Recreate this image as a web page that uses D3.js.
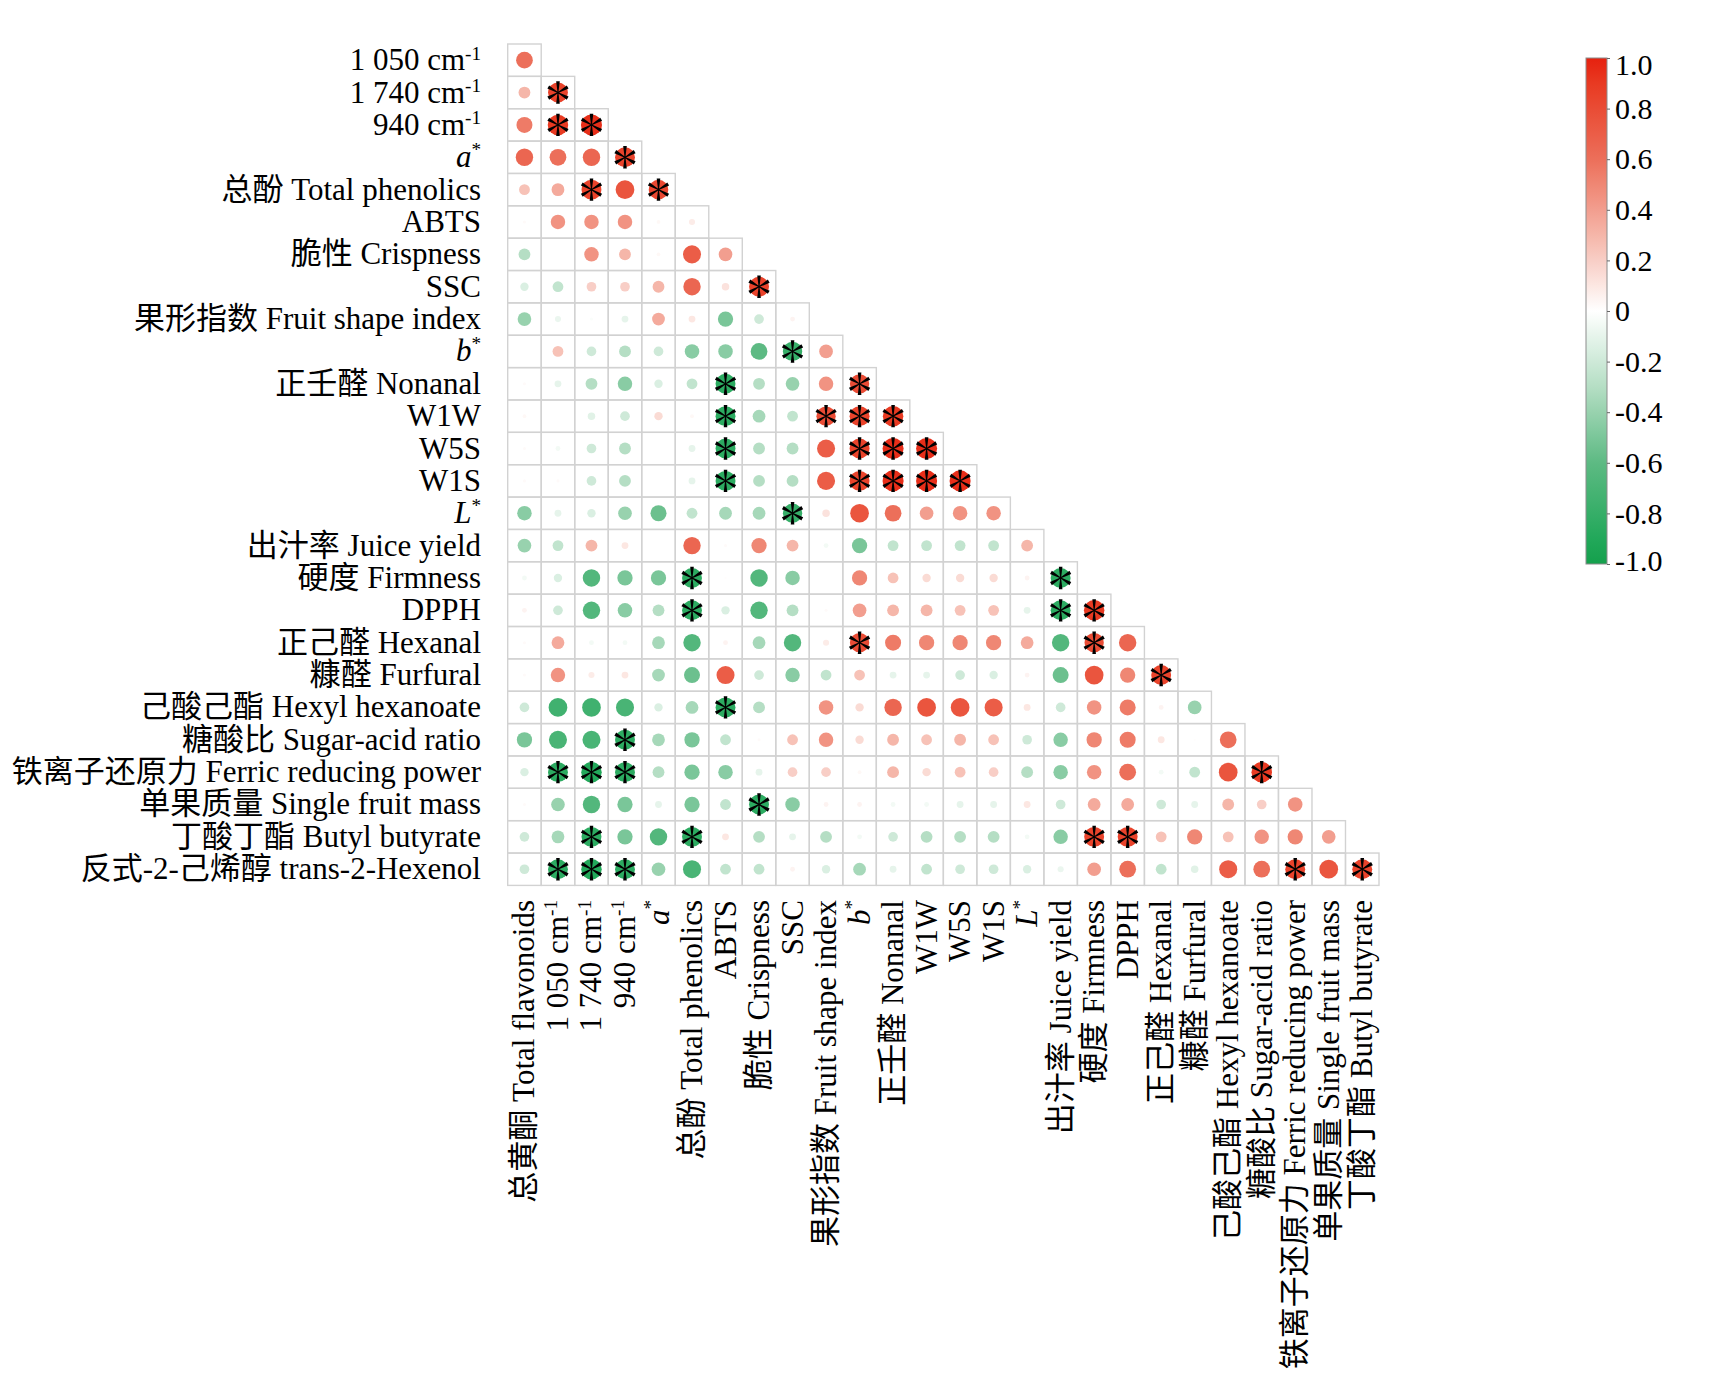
<!DOCTYPE html>
<html>
<head>
<meta charset="utf-8">
<script src="https://cdn.jsdelivr.net/npm/d3@7"></script>
<style>
  body { margin: 0; background: #fff; }
  svg text { font-family: "Liberation Serif", "Times New Roman", "Noto Sans CJK SC", serif; fill: #000; }
</style>
</head>
<body>
<script>
(function(){

    //variable names (chinese part, english part)
    var cnNames = ["总黄酮", "", "", "", "", "总酚", "", "脆性", "", "果形指数", "", "正壬醛", "", "", "", "", "出汁率", "硬度", "", "正己醛", "糠醛", "己酸己酯", "糖酸比", "铁离子还原力", "单果质量", "丁酸丁酯", "反式-2-己烯醇"];
    var enNames = ["Total flavonoids", "1 050 cm-1", "1 740 cm-1", "940 cm-1", "a*", "Total phenolics", "ABTS", "Crispness", "SSC", "Fruit shape index", "b*", "Nonanal", "W1W", "W5S", "W1S", "L*", "Juice yield", "Firmness", "DPPH", "Hexanal", "Furfural", "Hexyl hexanoate", "Sugar-acid ratio", "Ferric reducing power", "Single fruit mass", "Butyl butyrate", "trans-2-Hexenol"];

    //lower triangle of the correlation matrix, row i holds columns 0..i-1
    var corrRows = [
        [],
        [0.6],
        [0.3, 0.85],
        [0.55, 0.9, 0.95],
        [0.65, 0.6, 0.65, 0.85],
        [0.25, 0.35, 0.85, 0.75, 0.82],
        [0.02, 0.45, 0.45, 0.45, 0.03, 0.08],
        [-0.3, 0, 0.45, 0.3, 0.03, 0.7, 0.4],
        [-0.15, -0.25, 0.2, 0.2, 0.3, 0.65, 0.12, 0.85],
        [-0.4, -0.08, -0.02, -0.1, 0.35, 0.1, -0.5, -0.2, 0.05],
        [0, 0.25, -0.2, -0.3, -0.2, -0.45, -0.45, -0.6, -0.8, 0.4],
        [0.02, -0.1, -0.3, -0.45, -0.15, -0.25, -0.85, -0.3, -0.4, 0.45, 0.8],
        [0.03, 0, -0.12, -0.2, 0.15, 0.03, -0.85, -0.35, -0.25, 0.8, 0.85, 0.9],
        [0.02, -0.05, -0.2, -0.3, 0, -0.1, -0.85, -0.3, -0.3, 0.7, 0.85, 0.95, 0.95],
        [0.02, 0.02, -0.2, -0.3, 0, -0.1, -0.85, -0.3, -0.3, 0.7, 0.85, 0.95, 0.95, 0.95],
        [-0.45, -0.1, -0.15, -0.4, -0.55, -0.25, -0.35, -0.35, -0.8, 0.12, 0.75, 0.6, 0.4, 0.45, 0.45],
        [-0.4, -0.25, 0.3, 0.1, 0, 0.65, 0.02, 0.5, 0.3, -0.05, -0.5, -0.25, -0.25, -0.25, -0.25, 0.3],
        [-0.05, -0.15, -0.65, -0.5, -0.5, -0.85, 0.01, -0.65, -0.45, 0, 0.5, 0.25, 0.15, 0.15, 0.15, 0.05, -0.85],
        [0.05, -0.2, -0.65, -0.45, -0.3, -0.85, -0.15, -0.65, -0.3, 0.02, 0.4, 0.3, 0.3, 0.25, 0.25, -0.1, -0.85, 0.9],
        [0.02, 0.35, -0.05, -0.05, -0.35, -0.65, 0.05, -0.35, -0.65, 0.08, 0.8, 0.55, 0.5, 0.5, 0.5, 0.35, -0.65, 0.8, 0.65],
        [0.02, 0.45, 0.08, 0.1, -0.35, -0.55, 0.7, -0.2, -0.45, -0.25, 0.25, -0.1, -0.1, -0.2, -0.15, 0.05, -0.55, 0.75, 0.5, 0.85],
        [-0.2, -0.75, -0.75, -0.7, -0.15, -0.35, -0.85, -0.3, 0, 0.45, 0.15, 0.65, 0.75, 0.75, 0.7, 0.1, -0.2, 0.45, 0.55, 0.05, -0.4],
        [-0.5, -0.7, -0.7, -0.85, -0.35, -0.5, -0.25, 0.02, 0.25, 0.45, 0.15, 0.3, 0.25, 0.3, 0.25, -0.2, -0.45, 0.5, 0.55, 0.1, 0.01, 0.6],
        [-0.15, -0.85, -0.9, -0.85, -0.3, -0.5, -0.45, -0.1, 0.2, 0.2, 0.03, 0.3, 0.15, 0.25, 0.2, -0.3, -0.45, 0.45, 0.6, -0.05, -0.25, 0.75, 0.9],
        [0.02, -0.4, -0.65, -0.5, -0.1, -0.5, -0.25, -0.85, -0.45, 0.05, 0.05, -0.05, -0.05, -0.1, -0.1, 0.1, -0.2, 0.35, 0.35, -0.2, -0.1, 0.3, 0.2, 0.45],
        [-0.2, -0.35, -0.85, -0.5, -0.65, -0.85, 0.1, -0.3, -0.1, -0.3, -0.05, -0.2, -0.3, -0.3, -0.3, -0.05, -0.45, 0.85, 0.85, 0.25, 0.5, 0.25, 0.45, 0.5, 0.4],
        [-0.2, -0.85, -0.9, -0.85, -0.4, -0.7, -0.25, -0.25, 0.05, -0.15, -0.35, -0.1, -0.25, -0.2, -0.2, -0.15, -0.08, 0.4, 0.6, -0.25, -0.12, 0.7, 0.6, 0.85, 0.75, 0.85]
    ];

    //columns marked significant (*) in each row
    var sigCols = [
        [], [], [1], [1, 2], [3], [2, 4], [], [], [7], [], [8], [6, 10], [6, 9, 10, 11],
        [6, 10, 11, 12], [6, 10, 11, 12, 13], [8], [], [5, 16], [5, 16, 17], [10, 17], [19],
        [6], [3], [1, 2, 3, 22], [7], [2, 5, 17, 18], [1, 2, 3, 23, 25]
    ];

    //colour bar ticks
    var barTicks = [1, 0.8, 0.6, 0.4, 0.2, 0, -0.2, -0.4, -0.6, -0.8, -1];
    var barTickLabels = ["1.0", "0.8", "0.6", "0.4", "0.2", "0", "-0.2", "-0.4", "-0.6", "-0.8", "-1.0"];

    var width = 1724, height = 1384;
    var fontFam = '"Liberation Serif", "Times New Roman", "Noto Sans CJK SC", serif';

    var svg = d3.select("body")
        .append("svg")
        .attr("width", width)
        .attr("height", height);

    var n = enNames.length;
    var colIdx = d3.range(0, n - 1),
        rowIdx = d3.range(1, n);

    var x = d3.scaleBand().domain(colIdx).range([507.7, 1379]);
    var y = d3.scaleBand().domain(rowIdx).range([44, 885.4]);

    //green - white - red ramp (stronger tint in the middle like corrplot)
    var color = d3.scaleLinear()
        .domain([-1, -0.9, -0.6, -0.3, 0, 0.3, 0.6, 0.9, 1])
        .range(["#14a04c", "#22a85a", "#5dba83", "#b5dec4", "#ffffff", "#f5b6a9", "#ec6f5a", "#e83a22", "#e6210f"]);
    var radius = d3.scaleSqrt().domain([0, 1]).range([0, 10.8]);

    //flatten the triangle into cells
    var cells = [];
    rowIdx.forEach(function(r){
        corrRows[r].forEach(function(v, c){
            cells.push({row: r, col: c, value: v, sig: sigCols[r].indexOf(c) >= 0});
        });
    });

    //cell frames
    svg.append("g").selectAll("rect")
        .data(cells)
        .enter()
        .append("rect")
        .attr("x", function(d){ return x(d.col); })
        .attr("y", function(d){ return y(d.row); })
        .attr("width", x.bandwidth())
        .attr("height", y.bandwidth())
        .attr("fill", "none")
        .attr("stroke", "#d2d2d2")
        .attr("stroke-width", 1.4);

    //circles
    svg.append("g").selectAll("circle")
        .data(cells)
        .enter()
        .append("circle")
        .attr("cx", function(d){ return x(d.col) + x.bandwidth() / 2; })
        .attr("cy", function(d){ return y(d.row) + y.bandwidth() / 2; })
        .attr("r", function(d){ return radius(Math.abs(d.value)); })
        .attr("fill", function(d){ return color(d.value); });

    //asterisks: six tapered spokes
    function spokePath(len){
        var p = "";
        for (var k = 0; k < 6; k++){
            var a = (k * 60 - 90) * Math.PI / 180,
                ca = Math.cos(a), sa = Math.sin(a),
                nx = -sa, ny = ca;
            var w0 = 0.45, w1 = 1.8;
            var pts = [
                [nx * w0, ny * w0],
                [ca * len + nx * w1, sa * len + ny * w1],
                [ca * len - nx * w1, sa * len - ny * w1],
                [-nx * w0, -ny * w0]
            ];
            p += "M" + pts.map(function(q){ return q[0].toFixed(2) + "," + q[1].toFixed(2); }).join("L") + "Z";
        }
        return p;
    }
    svg.append("g").selectAll("path")
        .data(cells.filter(function(d){ return d.sig; }))
        .enter()
        .append("path")
        .attr("transform", function(d){
            return "translate(" + (x(d.col) + x.bandwidth() / 2) + "," + (y(d.row) + y.bandwidth() / 2) + ")";
        })
        .attr("d", spokePath(11.2))
        .attr("fill", "#000");

    //label writer: chinese + english, superscripts and italics
    function writeLabel(sel, i){
        var cn = cnNames[i], en = enNames[i];
        if (cn) sel.append("tspan").text(cn + " ");
        var m;
        if ((m = en.match(/^(.*cm)(-1)$/))){
            sel.append("tspan").text(m[1]);
            sel.append("tspan").attr("font-size", "62%").attr("dy", "-0.55em").text(m[2]);
        } else if ((m = en.match(/^([abL])\*$/))){
            sel.append("tspan").attr("font-style", "italic").text(m[1]);
            sel.append("tspan").attr("font-size", "62%").attr("dy", "-0.6em").text("*");
        } else {
            sel.append("tspan").text(en);
        }
    }

    //row labels
    rowIdx.forEach(function(r){
        var t = svg.append("text")
            .attr("x", 481)
            .attr("y", y(r) + y.bandwidth() / 2 + 10)
            .attr("text-anchor", "end")
            .attr("font-size", 31);
        writeLabel(t, r);
    });

    //column labels
    colIdx.forEach(function(c){
        var t = svg.append("text")
            .attr("transform", "translate(" + (x(c) + x.bandwidth() / 2 + 10) + ",900) rotate(-90)")
            .attr("text-anchor", "end")
            .attr("font-size", 31);
        writeLabel(t, c);
    });

    //colour bar
    var barX = 1586, barW = 21;
    var barScale = d3.scaleLinear().domain([-1, 1]).range([564, 58]);
    var grad = svg.append("defs").append("linearGradient")
        .attr("id", "barGrad")
        .attr("x1", 0).attr("y1", 1).attr("x2", 0).attr("y2", 0);
    d3.range(-1, 1.001, 0.05).forEach(function(v){
        grad.append("stop")
            .attr("offset", ((v + 1) / 2 * 100).toFixed(1) + "%")
            .attr("stop-color", color(v));
    });
    svg.append("rect")
        .attr("x", barX)
        .attr("y", barScale(1))
        .attr("width", barW)
        .attr("height", barScale(-1) - barScale(1))
        .attr("fill", "url(#barGrad)")
        .attr("stroke", "#8c8c8c")
        .attr("stroke-width", 1);

    var barAxis = d3.axisRight(barScale)
        .tickValues(barTicks)
        .tickSize(3)
        .tickPadding(5)
        .tickFormat(function(d, i){ return barTickLabels[i]; });
    var ax = svg.append("g")
        .attr("transform", "translate(" + (barX + barW) + ",0)")
        .call(barAxis);
    ax.select(".domain").remove();
    ax.selectAll(".tick line").attr("stroke", "#666");
    ax.selectAll(".tick text")
        .attr("font-family", fontFam)
        .attr("font-size", 30)
        .attr("fill", "#000")
        .attr("dy", function(d){ return d === 1 ? "0.55em" : (d === -1 ? "0.22em" : "0.32em"); });

})();
</script>
</body>
</html>
